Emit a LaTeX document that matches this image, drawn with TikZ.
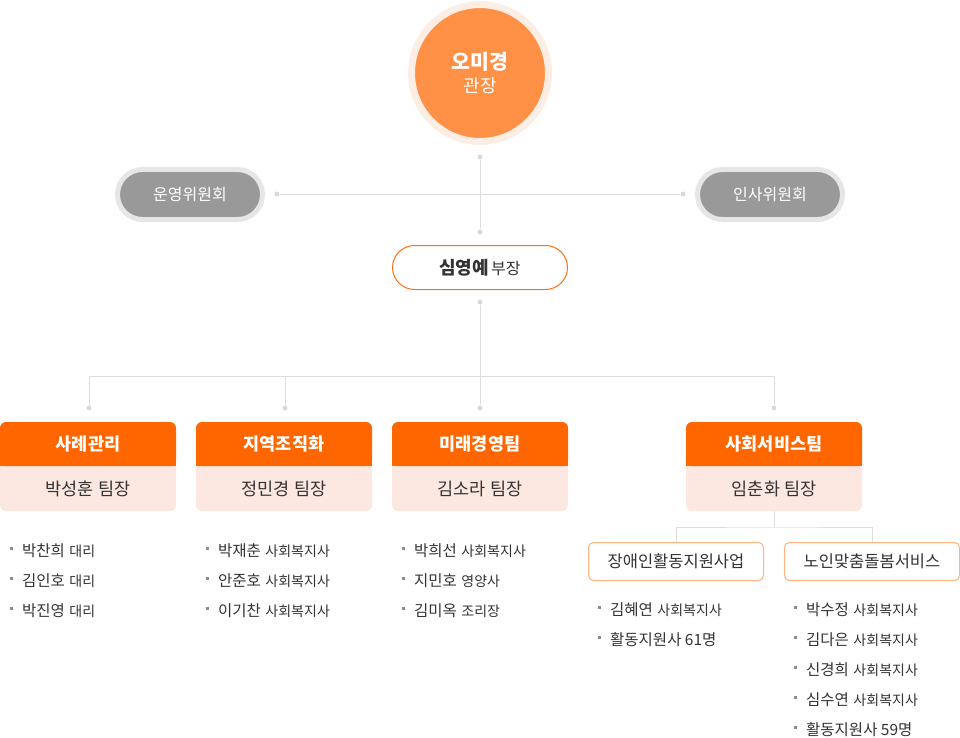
\documentclass[tikz,border=0pt]{standalone}
\usepackage{fontspec}
\setmainfont{Noto Sans CJK KR}
\usetikzlibrary{positioning}

\definecolor{chieffill}{HTML}{FF9147}
\definecolor{chiefhalo}{HTML}{FDEEE5}
\definecolor{commfill}{HTML}{999999}
\definecolor{commhalo}{HTML}{E6E6E6}
\definecolor{deputyline}{HTML}{FF6F0F}
\definecolor{teamhard}{HTML}{FF6600}
\definecolor{teamsoft}{HTML}{FCE8E1}
\definecolor{unitline}{HTML}{FFB47F}
\definecolor{wireline}{HTML}{DDDDDD}
\definecolor{wiredot}{HTML}{D9D9D9}
\definecolor{bulletgray}{HTML}{8C8C8C}
\definecolor{txt}{HTML}{333333}

\newcommand{\whosize}{\fontsize{15.5}{18}\selectfont}
\newcommand{\rolesize}{\fontsize{14}{17}\selectfont}
\newcommand{\gap}{\hspace{4.5pt}}

\begin{document}
\begin{tikzpicture}%
	[	x=1pt,
	y=-1pt,
	wire/.style={draw=wireline, line width=1pt},
	dot/.style={circle, fill=wiredot, inner sep=0pt, minimum size=5pt},
	chief/.style={circle, fill=chieffill, draw=chiefhalo, line width=7pt, minimum size=137pt, inner sep=0pt, text=white, align=center},
	committee/.style={rectangle, rounded corners=25pt, fill=commfill, draw=commhalo, line width=5pt, minimum width=145pt, minimum height=50pt, text=white, font=\fontsize{16}{19}\selectfont},
	deputy/.style={rectangle, rounded corners=22pt, fill=white, draw=deputyline, line width=1pt, minimum width=175pt, minimum height=44pt, text=txt},
	teamtitle/.style={text=white, font=\bfseries\fontsize{17.5}{21}\selectfont},
	teamlead/.style={text=txt, font=\fontsize{17.5}{21}\selectfont},
	unit/.style={rectangle, rounded corners=5pt, fill=white, draw=unitline, line width=1pt, minimum width=175pt, minimum height=38pt, text=txt, font=\fontsize{16.5}{19}\selectfont},
	bullet/.style={fill=bulletgray, inner sep=0pt, minimum size=3pt, xshift=-9pt, yshift=3pt},
	member/.style={anchor=west, inner sep=0pt, text=txt, label={[bullet]left:{}}}]

\useasboundingbox (0,0) rectangle (960,738);

% top
\node[chief] (chief) at (480,73) {{\bfseries\fontsize{20.5}{24}\selectfont 오미경}\\[5pt]{\fontsize{18}{21}\selectfont 관장}};

\node[committee] (opcomm) at (190,194.5) {운영위원회};
\node[committee] (hrcomm) at (770,194.5) {인사위원회};

\node[deputy] (deputy) at (480,267.5) {{\bfseries\fontsize{18}{21}\selectfont 심영예} {\fontsize{16}{19}\selectfont 부장}};

\node[dot] (chiefdot) at (480,157) {};
\node[dot] (deputytop) at (480,232) {};
\node[dot] (commL) at (277,194) {};
\node[dot] (commR) at (683,194) {};
\node[dot] (deputybot) at (480,302) {};

\draw[wire] (chiefdot) -- (deputytop);
\draw[wire] (commL) -- (commR);

% teams
\fill[teamsoft, rounded corners=6pt] (0,422) rectangle (176,511);
\fill[teamhard, rounded corners=6pt] (0,422) rectangle (176,466);
\fill[teamhard] (0,456) rectangle (176,466);
\fill[teamsoft, rounded corners=6pt] (196,422) rectangle (372,511);
\fill[teamhard, rounded corners=6pt] (196,422) rectangle (372,466);
\fill[teamhard] (196,456) rectangle (372,466);
\fill[teamsoft, rounded corners=6pt] (392,422) rectangle (568,511);
\fill[teamhard, rounded corners=6pt] (392,422) rectangle (568,466);
\fill[teamhard] (392,456) rectangle (568,466);
\fill[teamsoft, rounded corners=6pt] (686,422) rectangle (862,511);
\fill[teamhard, rounded corners=6pt] (686,422) rectangle (862,466);
\fill[teamhard] (686,456) rectangle (862,466);

\node[teamtitle] (team1) at (88,444) {사례관리};
\node[teamlead] (lead1) at (88,489) {박성훈 팀장};
\node[teamtitle] (team2) at (284,444) {지역조직화};
\node[teamlead] (lead2) at (284,489) {정민경 팀장};
\node[teamtitle] (team3) at (480,444) {미래경영팀};
\node[teamlead] (lead3) at (480,489) {김소라 팀장};
\node[teamtitle] (team4) at (774,444) {사회서비스팀};
\node[teamlead] (lead4) at (774,489) {임춘화 팀장};

\node[dot] (team1dot) at (89,408) {};
\node[dot] (team2dot) at (285,408) {};
\node[dot] (team3dot) at (480,408) {};
\node[dot] (team4dot) at (774,408) {};
\coordinate (busL) at (89,376);
\coordinate (busR) at (774,376);

\draw[wire] (deputybot) -- (team3dot);
\draw[wire] (team1dot) -- (busL) -- (busR) -- (team4dot);
\draw[wire] (team2dot) -- (team2dot |- busL);

% units of team 4
\node[unit] (unit1) at (676,561.5) {장애인활동지원사업};
\node[unit] (unit2) at (872,561.5) {노인맞춤돌봄서비스};
\coordinate (team4foot) at (774,511);
\coordinate (unitbus) at (774,527);

\draw[wire] (team4foot) -- (unitbus);
\draw[wire] (unit1.north) |- (unitbus) -| (unit2.north);

% members
\node[member] (m11) at (22,551) {{\whosize 박찬희}\gap{\rolesize 대리}};
\node[member] (m12) at (22,581) {{\whosize 김인호}\gap{\rolesize 대리}};
\node[member] (m13) at (22,611) {{\whosize 박진영}\gap{\rolesize 대리}};

\node[member] (m21) at (218,551) {{\whosize 박재춘}\gap{\rolesize 사회복지사}};
\node[member] (m22) at (218,581) {{\whosize 안준호}\gap{\rolesize 사회복지사}};
\node[member] (m23) at (218,611) {{\whosize 이기찬}\gap{\rolesize 사회복지사}};

\node[member] (m31) at (414,551) {{\whosize 박희선}\gap{\rolesize 사회복지사}};
\node[member] (m32) at (414,581) {{\whosize 지민호}\gap{\rolesize 영양사}};
\node[member] (m33) at (414,611) {{\whosize 김미옥}\gap{\rolesize 조리장}};

\node[member] (m41) at (610,610) {{\whosize 김혜연}\gap{\rolesize 사회복지사}};
\node[member] (m42) at (610,640) {{\whosize 활동지원사 61명}};

\node[member] (m51) at (806,610) {{\whosize 박수정}\gap{\rolesize 사회복지사}};
\node[member] (m52) at (806,640) {{\whosize 김다은}\gap{\rolesize 사회복지사}};
\node[member] (m53) at (806,670) {{\whosize 신경희}\gap{\rolesize 사회복지사}};
\node[member] (m54) at (806,700) {{\whosize 심수연}\gap{\rolesize 사회복지사}};
\node[member] (m55) at (806,730) {{\whosize 활동지원사 59명}};
\end{tikzpicture}
\end{document}
